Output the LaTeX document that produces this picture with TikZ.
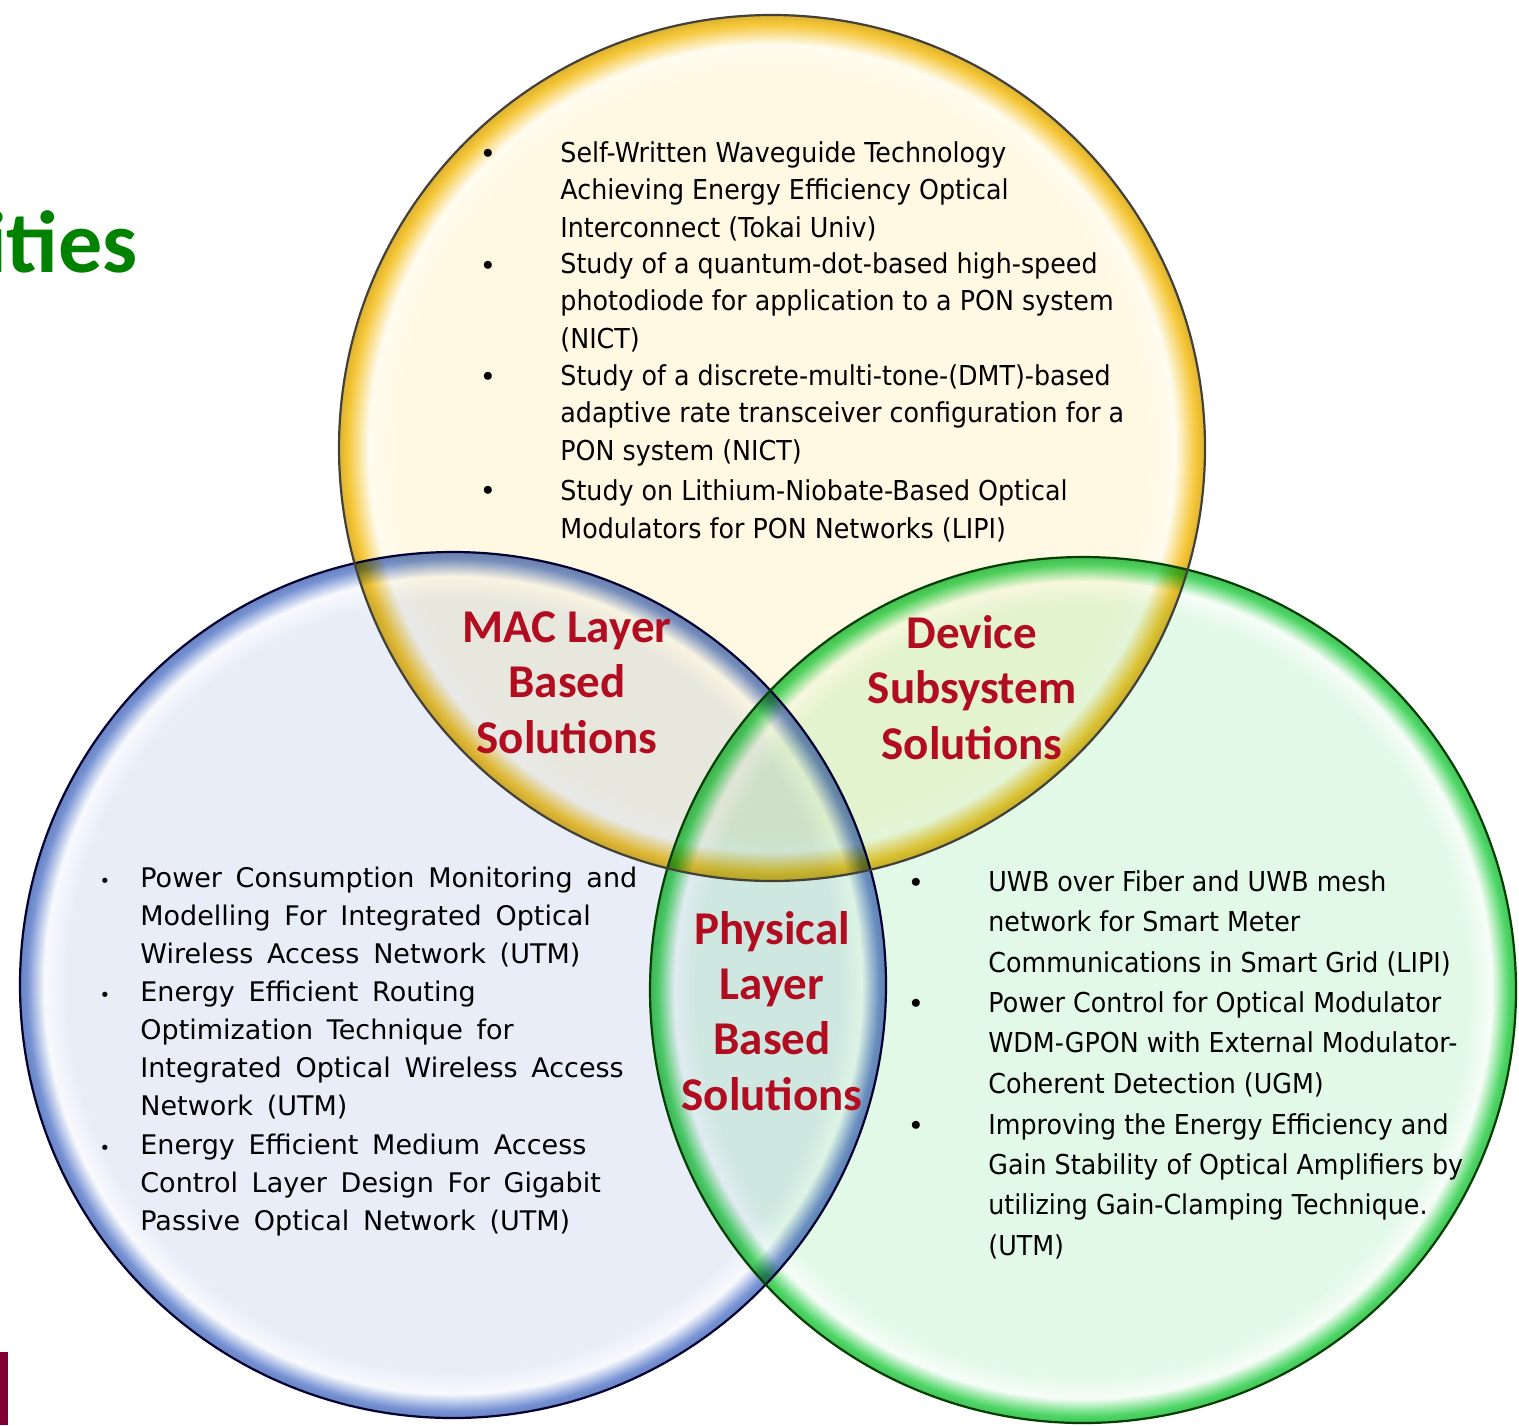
\documentclass[tikz,border=0pt]{standalone}
\usepackage{fontspec}
\setmainfont{DejaVu Sans}
\newfontfamily\headfont{Carlito}
\newfontfamily\narrowfont[FakeStretch=0.925]{DejaVu Sans}
\newfontfamily\widefont[WordSpace=1.6]{DejaVu Sans}

\definecolor{ypale}{RGB}{255,249,228}
\definecolor{yrim}{RGB}{245,198,55}
\definecolor{bpale}{RGB}{232,237,248}
\definecolor{brim}{RGB}{118,146,212}
\definecolor{gpale}{RGB}{227,249,231}
\definecolor{grim}{RGB}{78,214,102}
\definecolor{headred}{RGB}{178,12,32}
\definecolor{titlegreen}{RGB}{0,130,0}
\definecolor{barred}{RGB}{128,0,50}

% TikZ fits the path to the inner 25bp of a radial shading
\pgfdeclareradialshading{yellowbubble}{\pgfpoint{0bp}{0bp}}{color(0bp)=(ypale); color(21.8bp)=(ypale); color(23.3bp)=(ypale!60!white); color(24.5bp)=(yrim); color(25bp)=(yrim!90!black); color(50bp)=(yrim!90!black)}
\pgfdeclareradialshading{bluebubble}{\pgfpoint{0bp}{0bp}}{color(0bp)=(bpale); color(22.3bp)=(bpale); color(23.6bp)=(bpale!30!white); color(24.6bp)=(brim); color(25bp)=(brim!90!black); color(50bp)=(brim!90!black)}
\pgfdeclareradialshading{greenbubble}{\pgfpoint{0bp}{0bp}}{color(0bp)=(gpale); color(22.3bp)=(gpale); color(23.6bp)=(gpale!30!white); color(24.6bp)=(grim); color(25bp)=(grim!90!black); color(50bp)=(grim!90!black)}

\begin{document}
\begin{tikzpicture}[x=0.5pt,y=-0.5pt,
	rim/.style={line width=1.1pt},
	heading/.style={font=\headfont\bfseries\fontsize{23.5}{27.6}\selectfont, text=headred, align=center, anchor=base, inner sep=0pt},
	topitem/.style={font=\narrowfont\fontsize{13.7}{18.6}\selectfont, align=left, anchor=base west, inner sep=0pt},
	rightitem/.style={font=\narrowfont\fontsize{13.7}{20.15}\selectfont, align=left, anchor=base west, inner sep=0pt},
	leftitem/.style={font=\widefont\fontsize{13.5}{19}\selectfont, align=left, anchor=base west, inner sep=0pt},
	bigdot/.style={font=\fontsize{13.7}{18}\selectfont, anchor=base, inner sep=0pt},
	smalldot/.style={font=\fontsize{9}{12}\selectfont, anchor=base, inner sep=0pt}]
	\useasboundingbox (0,0) rectangle (1519,1425);
	\fill[white] (0,0) rectangle (1519,1425);

	% the three circles
	\begin{scope}[blend group=multiply]
		\shade[shading=bluebubble] (453,985) circle (433);
		\shade[shading=greenbubble] (1083,990) circle (433);
		\shade[shading=yellowbubble] (772,448) circle (433);
	\end{scope}
	\draw[rim, draw=black!80!blue] (453,985) circle (433);
	\draw[rim, draw=black!75!green] (1083,990) circle (433);
	\draw[rim, draw=black!85!yellow] (772,448) circle (433);

	% page leftovers
	\node[font=\headfont\bfseries\fontsize{44}{50}\selectfont, text=titlegreen, anchor=base east, inner sep=0pt] (title) at (138,272) {ities};
	\fill[barred] (0,1352) rectangle (8,1425);

	% headings (base = last line)
	\node[heading] (mac) at (567,753) {MAC Layer\\Based\\Solutions};
	\node[heading] (device) at (972,759) {Device\\Subsystem\\Solutions};
	\node[heading] (physical) at (772,1110) {Physical\\Layer\\Based\\Solutions};

	% top circle
	\node[bigdot] (tb1) at (488,163) {•};
	\node[topitem] (top1) at (560,237) {Self-Written Waveguide Technology\\Achieving Energy Efficiency Optical\\Interconnect (Tokai Univ)};
	\node[bigdot] (tb2) at (488,275) {•};
	\node[topitem] (top2) at (560,348) {Study of a quantum-dot-based high-speed\\photodiode for application to a PON system\\(NICT)};
	\node[bigdot] (tb3) at (488,386) {•};
	\node[topitem] (top3) at (560,460) {Study of a discrete-multi-tone-(DMT)-based\\adaptive rate transceiver configuration for a\\PON system (NICT)};
	\node[bigdot] (tb4) at (488,500) {•};
	\node[topitem] (top4) at (560,538) {Study on Lithium-Niobate-Based Optical\\Modulators for PON Networks (LIPI)};

	% left circle
	\node[smalldot] (lb1) at (105,887) {•};
	\node[leftitem] (left1) at (140,963) {Power Consumption Monitoring and\\Modelling For Integrated Optical\\Wireless Access Network (UTM)};
	\node[smalldot] (lb2) at (105,1001) {•};
	\node[leftitem] (left2) at (140,1115) {Energy Efficient Routing\\Optimization Technique for\\Integrated Optical Wireless Access\\Network (UTM)};
	\node[smalldot] (lb3) at (105,1154) {•};
	\node[leftitem] (left3) at (140,1230) {Energy Efficient Medium Access\\Control Layer Design For Gigabit\\Passive Optical Network (UTM)};

	% right circle
	\node[bigdot] (rb1) at (916,892) {•};
	\node[rightitem] (right1) at (988,972) {UWB over Fiber and UWB mesh\\network for Smart Meter\\Communications in Smart Grid (LIPI)};
	\node[bigdot] (rb2) at (916,1013) {•};
	\node[rightitem] (right2) at (988,1093) {Power Control for Optical Modulator\\WDM-GPON with External Modulator-\\Coherent Detection (UGM)};
	\node[bigdot] (rb3) at (916,1135) {•};
	\node[rightitem] (right3) at (988,1255) {Improving the Energy Efficiency and\\Gain Stability of Optical Amplifiers by\\utilizing Gain-Clamping Technique.\\(UTM)};
\end{tikzpicture}
\end{document}
